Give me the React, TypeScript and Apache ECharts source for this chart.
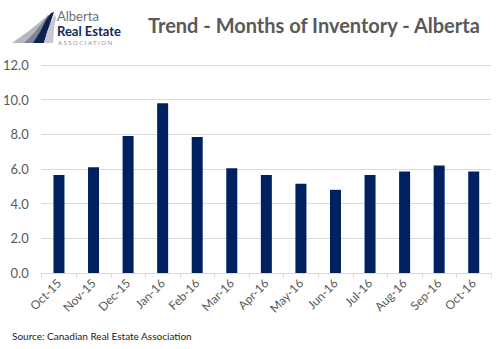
import React, { useEffect, useRef } from "react";
import * as echarts from "echarts";

const categories = ["Oct-15", "Nov-15", "Dec-15", "Jan-16", "Feb-16", "Mar-16", "Apr-16", "May-16", "Jun-16", "Jul-16", "Aug-16", "Sep-16", "Oct-16"];
const inventoryMonths = [5.65, 6.1, 7.9, 9.8, 7.85, 6.05, 5.65, 5.15, 4.8, 5.65, 5.85, 6.2, 5.85];
const yTicks = { min: 0, max: 12, interval: 2 };
const titleText = "Trend - Months of Inventory - Alberta";
const sourceText = "Source: Canadian Real Estate Association";

export default function App() {
  const ref = useRef<HTMLDivElement>(null);
  useEffect(() => {
    if (!ref.current) return;
    const chart = echarts.init(ref.current, null, { renderer: "svg" });
    const font = "Lato, 'Open Sans', sans-serif";
    chart.setOption({
      animation: false,
      backgroundColor: "#ffffff",
      grid: { left: 39, right: 8, top: 65, bottom: 76 },
      xAxis: {
        type: "category",
        data: categories,
        boundaryGap: true,
        axisLine: { show: true, lineStyle: { color: "#d9d9d9", width: 1 } },
        axisTick: { show: true, alignWithLabel: false, length: 5, lineStyle: { color: "#d9d9d9" } },
        axisLabel: { rotate: 45, color: "#595959", fontFamily: font, fontSize: 12, margin: 8, interval: 0 },
      },
      yAxis: {
        type: "value",
        min: yTicks.min,
        max: yTicks.max,
        interval: yTicks.interval,
        axisLine: { show: false },
        axisTick: { show: false },
        splitLine: { lineStyle: { color: "#d9d9d9", width: 1 } },
        axisLabel: {
          color: "#595959",
          fontFamily: font,
          fontSize: 13,
          margin: 13,
          formatter: (v: number) => v.toFixed(1),
        },
      },
      series: [
        {
          type: "bar",
          data: inventoryMonths,
          barWidth: 11,
          itemStyle: { color: "#002060" },
        },
      ],
      graphic: [
        {
          type: "text",
          left: 148,
          top: 15,
          style: { text: titleText, font: `bold 20px ${font}`, fill: "#595959" },
        },
        {
          type: "text",
          left: 12,
          top: 331,
          style: { text: sourceText, font: `10px ${font}`, fill: "#222222" },
        },
        // logo swoosh
        {
          type: "polygon",
          shape: { points: [[12, 43], [30, 30], [46, 17], [52, 13], [50, 22], [45, 33], [40, 43]] },
          style: { fill: "#b5b9c0" },
        },
        {
          type: "polygon",
          shape: { points: [[24, 43], [34, 33], [43, 22], [48, 15], [50, 15], [47, 25], [43, 35], [40, 43]] },
          style: { fill: "#7d8594" },
        },
        {
          type: "polygon",
          shape: { points: [[33, 43], [40, 32], [46, 20], [51, 13], [54, 12], [50, 24], [46, 36], [44, 43]] },
          style: { fill: "#0e2250" },
        },
        {
          type: "polygon",
          shape: { points: [[44, 43], [47, 32], [51, 22], [55, 14], [56, 18], [54, 28], [53, 43]] },
          style: { fill: "#c5c8ce" },
        },
        {
          type: "text",
          left: 57,
          top: 9,
          style: { text: "Alberta", font: `13px ${font}`, fill: "#6b6f78", lineHeight: 13 },
        },
        {
          type: "text",
          left: 57,
          top: 24,
          style: { text: "Real Estate", font: `bold 13px ${font}`, fill: "#14285a", lineHeight: 13 },
        },
        {
          type: "text",
          left: 58,
          top: 39,
          style: { text: "A S S O C I A T I O N", font: `6px ${font}`, fill: "#8a8e96", lineHeight: 6 },
        },
      ],
    });
    return () => chart.dispose();
  }, []);
  return <div ref={ref} style={{ width: 499, height: 349, position: "absolute", left: 0, top: 0 }} />;
}
